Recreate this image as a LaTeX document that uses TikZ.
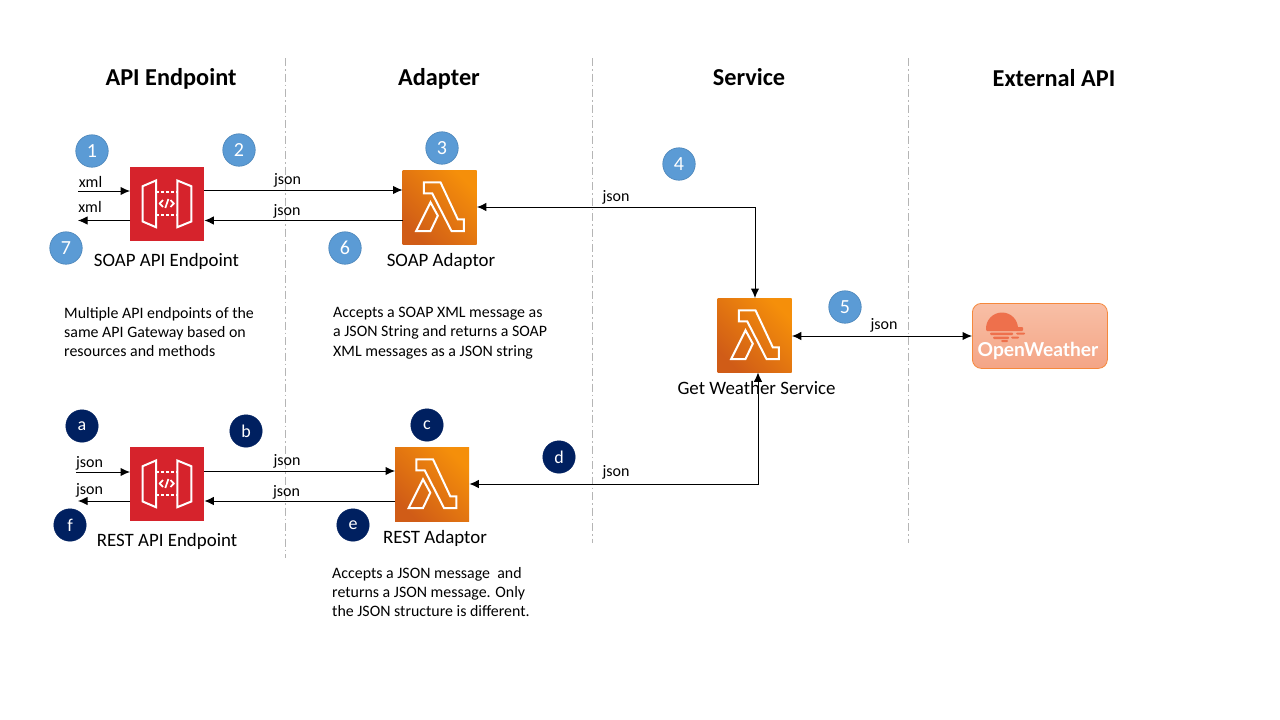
\documentclass[tikz,border=0pt]{standalone}
\usepackage{fontspec}
\setmainfont{Carlito}
\newfontfamily\owfont{Lato}
\usetikzlibrary{arrows.meta}
\definecolor{stepblue}{HTML}{5B9BD5}
\definecolor{stepblueedge}{HTML}{4A84B8}
\definecolor{stepdark}{HTML}{002060}
\definecolor{awsred}{HTML}{D6232C}
\definecolor{lamtop}{HTML}{F58F0A}
\definecolor{lambot}{HTML}{D05C17}
\definecolor{owfill}{HTML}{F8BFA6}
\definecolor{owfillb}{HTML}{F4A586}
\definecolor{owedge}{HTML}{F5883C}
\definecolor{owsun}{HTML}{EE704C}
\definecolor{divider}{HTML}{B5B5B5}
\tikzset{
  x=1pt,y=-1pt,
  title/.style={font=\fontsize{24.3}{26}\selectfont\bfseries,text=black,inner sep=0pt},
  caption/.style={font=\fontsize{18.9}{20}\selectfont,text=black,inner sep=0pt},
  body/.style={font=\fontsize{15.9}{19.3}\selectfont,text=black,inner sep=0pt,align=left,anchor=north west},
  edgelabel/.style={font=\fontsize{16}{18}\selectfont,text=black,inner sep=0pt},
  stepnum/.style={circle,minimum size=32.5pt,inner sep=0pt,fill=stepblue,draw=stepblueedge,line width=.6pt,text=white,font=\fontsize{20}{22}\selectfont},
  stepletter/.style={circle,minimum size=32.5pt,inner sep=0pt,fill=stepdark,draw=stepdark,text=white,font=\fontsize{18}{20}\selectfont},
  conn/.style={draw=black,line width=1pt,-{Latex[length=9.5pt,width=8.5pt]}},
  connboth/.style={draw=black,line width=1pt,{Latex[length=9.5pt,width=8.5pt]}-{Latex[length=9.5pt,width=8.5pt]}},
  sepline/.style={draw=divider,line width=.7pt,dash pattern=on 8pt off 3pt on 1.5pt off 3pt},
  iconbox/.style={minimum size=74pt,inner sep=0pt,anchor=north west},
  apibox/.style={iconbox,fill=awsred},
  lambdabox/.style={iconbox,bottom color=lambot,top color=lamtop,shading angle=-45},
  glyph/.style={draw=white,line width=2pt,line join=miter,fill=none},
}
\newcommand{\lambdaglyph}[1]{%
  \draw[glyph,shift={(#1.north west)}]
    (21.3,12.3) -- (38,12.3) -- (55.3,49.3) -- (61.3,49.3) -- (61.3,61) -- (49,61) -- (29.7,23.3) -- (21.3,23.3) -- cycle
    (28,32.3) -- (35.3,45.7) -- (28,61) -- (13.7,61) -- cycle;}
\newcommand{\apiglyph}[1]{%
  \begin{scope}[shift={(#1.north west)}]
    \draw[glyph] (12.7,19.7) -- (26,14) -- (26,60.7) -- (12.7,55) -- cycle;
    \draw[glyph] (47.3,14) -- (61.3,19.7) -- (61.3,55) -- (47.3,60.7) -- cycle;
    \draw[glyph,dash pattern=on 3pt off 2pt] (26,25.7) -- (47.3,25.7) (26,48.3) -- (47.3,48.3);
    \draw[glyph,line width=1.7pt] (33,33.5) -- (29.7,37) -- (33,40.5) (40.5,33.5) -- (43.8,37) -- (40.5,40.5) (38.4,32.5) -- (35.3,41.5);
  \end{scope}}
\begin{document}
\begin{tikzpicture}
\useasboundingbox (0,0) rectangle (1280,720);
\fill[white] (0,0) rectangle (1280,720);
% dividers
\coordinate (d1a) at (285,58); \coordinate (d1b) at (285,558);
\coordinate (d2a) at (592,58); \coordinate (d2b) at (592,543);
\coordinate (d3a) at (908,58); \coordinate (d3b) at (908,543);
\draw[sepline] (d1a) -- (d1b);
\draw[sepline] (d2a) -- (d2b);
\draw[sepline] (d3a) -- (d3b);
% titles
\node[title] (t1) at (171,78.5) {API Endpoint};
\node[title] (t2) at (439,78.5) {Adapter};
\node[title] (t3) at (749,77) {Service};
\node[title] (t4) at (1054,78) {External API};
% icons
\node[apibox] (soapapi) at (130,166.5) {};
\apiglyph{soapapi}
\node[apibox] (restapi) at (130,446.5) {};
\apiglyph{restapi}
\node[lambdabox] (soaplam) at (402.5,170) {};
\lambdaglyph{soaplam}
\node[lambdabox] (restlam) at (395,447) {};
\lambdaglyph{restlam}
\node[lambdabox] (svclam) at (717.5,298) {};
\lambdaglyph{svclam}
% OpenWeather
\node[minimum width=135pt,minimum height=65pt,inner sep=0pt,anchor=north west,rounded corners=9pt,draw=owedge,line width=.8pt,top color=owfill,bottom color=owfillb] (ow) at (972,303) {};
\begin{scope}
  \fill[owsun] (986,328.5) arc[start angle=180,end angle=360,radius=16] -- cycle;
  \fill[owsun,rounded corners=1pt] (986,327) rectangle (1023,331);
  \fill[owsun,rounded corners=1pt] (990,332.5) rectangle (1013,335);
  \fill[owsun,rounded corners=1pt] (1016,332.5) rectangle (1025,334.5);
  \fill[owsun,rounded corners=1pt] (993,336.5) rectangle (1009,339);
  \fill[owsun,rounded corners=1pt] (1011,336.5) rectangle (1019,338.5);
  \fill[owsun,rounded corners=1pt] (1001,340) rectangle (1008,342);
\end{scope}
\node[inner sep=0pt,text=white,font=\owfont\fontsize{19.2}{24}\selectfont\bfseries] (owtext) at (1038,351) {OpenWeather};
% captions
\node[caption] (c1) at (166.5,261.5) {SOAP API Endpoint};
\node[caption] (c2) at (441,261.5) {SOAP Adaptor};
\node[caption] (c3) at (756.5,388.5) {Get Weather Service};
\node[caption] (c4) at (167,541.5) {REST API Endpoint};
\node[caption] (c5) at (435,538) {REST Adaptor};
% body
\node[body] (b1) at (64,307) {Multiple API endpoints of the\\same API Gateway based on\\resources and methods};
\node[body] (b2) at (333,307) {Accepts a SOAP XML message as\\a JSON String and returns a SOAP\\XML messages as a JSON string};
\node[body] (b3) at (332,567) {Accepts a JSON message\ \ and\\returns a JSON message. Only\\the JSON structure is different.};
% step circles
\node[stepnum] (n1) at (92,151) {1};
\node[stepnum] (n2) at (239,150) {2};
\node[stepnum] (n3) at (442,148) {3};
\node[stepnum] (n4) at (679,164) {4};
\node[stepnum] (n5) at (845,307) {5};
\node[stepnum] (n6) at (345,248) {6};
\node[stepnum] (n7) at (66,248) {7};
\node[stepletter] (la) at (82,426) {a};
\node[stepletter] (lb) at (246,431) {b};
\node[stepletter] (lc) at (427,425) {c};
\node[stepletter] (ld) at (559,457) {d};
\node[stepletter] (le) at (353,525) {e};
\node[stepletter] (lf) at (70,525) {f};
% free ends
\coordinate (xin) at (78,191);
\coordinate (xout) at (78,220.5);
\coordinate (jin) at (76,472);
\coordinate (jout) at (78,501);
% connectors, SOAP
\draw[conn] (xin) -- (xin -| soapapi.west);
\draw[conn] (soapapi.west |- xout) -- (xout);
\draw[conn] (soapapi.east |- 0,190) -- (soaplam.west |- 0,190);
\draw[conn] (soaplam.west |- 0,220.5) -- (soapapi.east |- 0,220.5);
\draw[connboth] (soaplam.east |- 0,207) -| (svclam.north -| 755,0);
% connectors, REST
\draw[conn] (jin) -- (jin -| restapi.west);
\draw[conn] (restapi.west |- jout) -- (jout);
\draw[conn] (restapi.east |- 0,471) -- (restlam.west |- 0,471);
\draw[conn] (restlam.west |- 0,501) -- (restapi.east |- 0,501);
\draw[connboth] (restlam.east |- 0,484) -| (svclam.south -| 758,0);
\draw[connboth] (svclam.east |- 0,336) -- (ow.west |- 0,336);
% connector labels
\node[edgelabel] (e1) at (90.5,181.5) {xml};
\node[edgelabel] (e2) at (90,207) {xml};
\node[edgelabel] (e3) at (287.5,180) {json};
\node[edgelabel] (e4) at (287,211) {json};
\node[edgelabel] (e5) at (616,197) {json};
\node[edgelabel] (e6) at (884,325) {json};
\node[edgelabel] (e7) at (89.5,463.5) {json};
\node[edgelabel] (e8) at (89.5,490.5) {json};
\node[edgelabel] (e9) at (287,461) {json};
\node[edgelabel] (e10) at (286.5,492) {json};
\node[edgelabel] (e11) at (616,472) {json};
\end{tikzpicture}
\end{document}
